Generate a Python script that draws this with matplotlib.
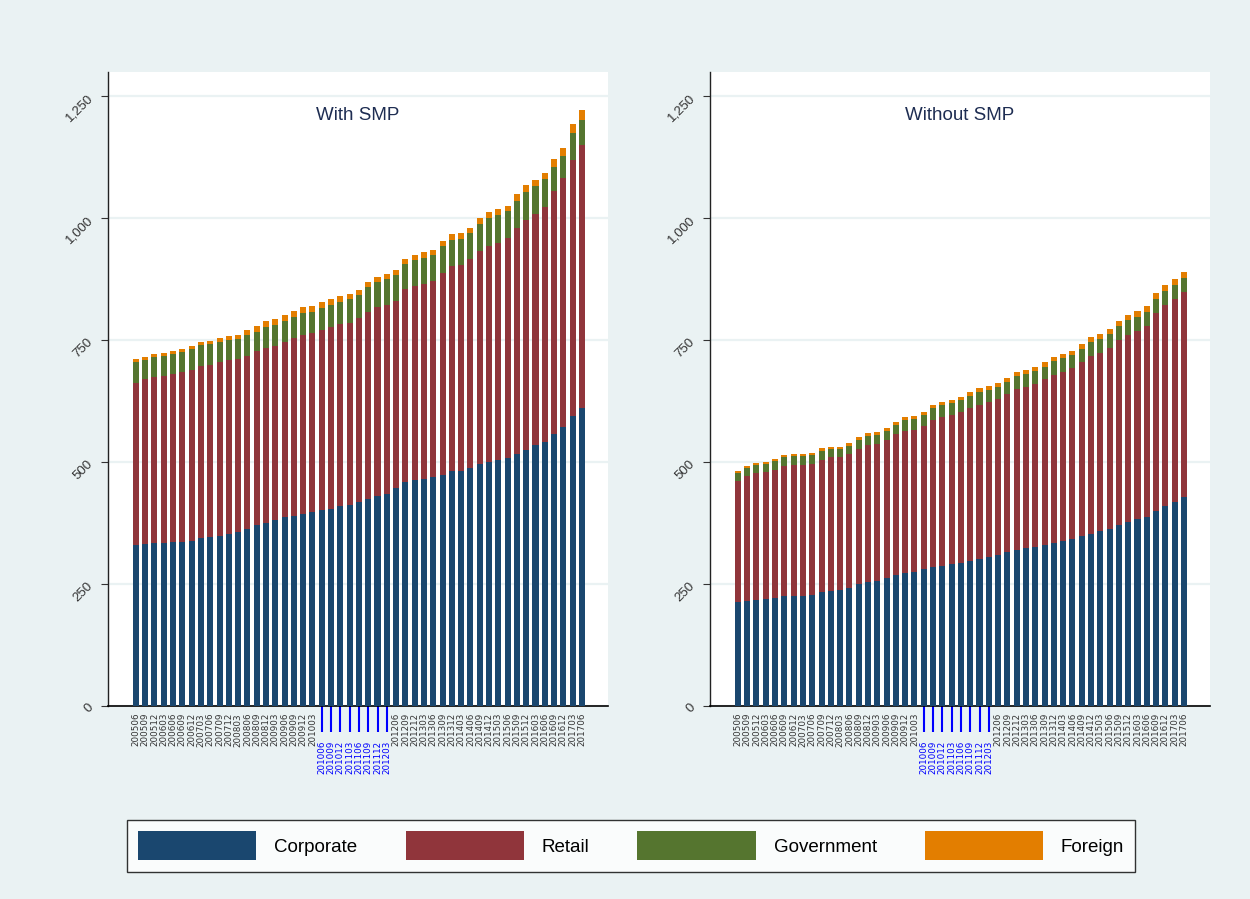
import matplotlib
matplotlib.use("Agg")
import matplotlib.pyplot as plt
from matplotlib.patches import Patch
from matplotlib.ticker import FuncFormatter
import numpy as np

# ── Data (EUR bn, quarter-end) ───────────────────────────────────────────────
quarters = [f"{y}{m}" for y in range(2005, 2018) for m in ("03", "06", "09", "12")]
quarters = quarters[quarters.index("200506"):quarters.index("201706") + 1]
smp_quarters = ["201006", "201009", "201012", "201103", "201106", "201109", "201112", "201203"]

with_corporate = [330, 332, 334, 334, 336, 336, 338, 345, 346, 348, 352, 356, 363, 371, 375, 381,
                  387, 389, 393, 397, 402, 404, 410, 412, 418, 424, 430, 434, 447, 459, 463, 465,
                  469, 473, 481, 481, 488, 496, 500, 504, 508, 516, 525, 535, 541, 557, 572, 594, 611]
with_retail = [332, 338, 340, 342, 344, 348, 351, 352, 353, 357, 357, 355, 354, 356, 359, 357,
               359, 365, 367, 367, 368, 372, 373, 373, 377, 383, 388, 388, 383, 395, 398, 400,
               402, 414, 421, 423, 428, 436, 443, 445, 451, 464, 471, 473, 482, 498, 510, 526, 539]
with_government = [43, 39, 41, 41, 41, 41, 42, 43, 43, 41, 41, 41, 43, 39, 42, 43,
                   43, 43, 45, 43, 46, 46, 45, 49, 47, 52, 51, 53, 53, 52, 53, 53,
                   53, 56, 53, 53, 53, 56, 57, 57, 55, 55, 57, 58, 57, 50, 45, 55, 52]
with_foreign = [6, 6, 6, 6, 6, 6, 7, 6, 6, 8, 8, 8, 10, 13, 13, 12,
                12, 12, 13, 13, 12, 12, 12, 10, 10, 10, 10, 10, 10, 10, 10, 12,
                10, 10, 12, 12, 12, 12, 12, 12, 12, 14, 15, 12, 12, 17, 16, 18, 19]

without_corporate = [213, 215, 217, 219, 221, 225, 225, 225, 227, 234, 236, 238, 242, 250, 254, 256,
                     262, 268, 272, 275, 281, 285, 287, 291, 293, 297, 301, 305, 309, 316, 320, 324,
                     326, 330, 334, 338, 342, 348, 352, 358, 362, 371, 377, 383, 387, 400, 410, 418, 428]
without_retail = [248, 256, 260, 260, 263, 267, 269, 269, 269, 270, 274, 272, 274, 277, 281, 281,
                  283, 289, 291, 290, 293, 301, 305, 305, 309, 314, 316, 318, 320, 323, 330, 330,
                  334, 340, 344, 346, 351, 357, 365, 365, 371, 379, 383, 385, 392, 405, 412, 416, 420]
without_government = [16, 17, 17, 17, 18, 18, 18, 18, 18, 18, 17, 17, 17, 18, 18, 18,
                      18, 19, 23, 23, 22, 25, 25, 25, 25, 24, 26, 25, 25, 25, 26, 26,
                      26, 25, 29, 29, 26, 26, 29, 29, 29, 29, 31, 29, 28, 29, 28, 29, 29]
without_foreign = [5, 4, 4, 4, 4, 4, 4, 4, 4, 6, 4, 4, 6, 6, 6, 6,
                   7, 6, 6, 6, 6, 6, 6, 6, 6, 8, 9, 8, 8, 8, 8, 8,
                   9, 10, 8, 8, 8, 11, 10, 10, 10, 10, 10, 12, 13, 12, 13, 12, 12]

sectors = ["Corporate", "Retail", "Government", "Foreign"]
colors = ["#1a476f", "#90353b", "#55752f", "#e37e00"]

BG = "#eaf2f3"

panels = [
    ("With SMP", [with_corporate, with_retail, with_government, with_foreign]),
    ("Without SMP", [without_corporate, without_retail, without_government, without_foreign]),
]

fig = plt.figure(figsize=(12.5, 8.99), dpi=100, facecolor=BG)
plt.rcParams["font.family"] = ["Liberation Sans", "DejaVu Sans"]

x = np.arange(len(quarters))
smp_idx = [quarters.index(q) for q in smp_quarters]
other_idx = [i for i in x if i not in smp_idx]

for k, (title, series) in enumerate(panels):
    left = 0.0864 if k == 0 else 0.568
    ax = fig.add_axes([left, 0.2147, 0.4, 0.7053])
    ax.set_facecolor("white")

    bottom = np.zeros(len(quarters))
    for vals, col, name in zip(series, colors, sectors):
        ax.bar(x, vals, bottom=bottom, width=0.65, color=col, label=name,
               edgecolor="none", zorder=3)
        bottom += np.array(vals)

    ax.set_xlim(-3.0, 50.8)
    ax.set_ylim(0, 1300)
    ax.set_yticks([0, 250, 500, 750, 1000, 1250])
    ax.yaxis.set_major_formatter(FuncFormatter(lambda v, p: f"{int(v):,}"))
    ax.grid(axis="y", color=BG, linewidth=1.6, zorder=0)
    ax.tick_params(axis="y", length=5, width=0.8, color="#333333", labelsize=9.5,
                   labelcolor="#333333", pad=7)
    for lab in ax.get_yticklabels():
        lab.set_rotation(45)
        lab.set_rotation_mode("anchor")
        lab.set_ha("right")
        lab.set_va("center")

    # normal quarter ticks
    ax.set_xticks(other_idx)
    ax.set_xticklabels([quarters[i] for i in other_idx], rotation=90, fontsize=6.3,
                       color="#333333", family="DejaVu Sans")
    ax.tick_params(axis="x", which="major", length=0, pad=5)
    # SMP period: long blue ticks, labels pushed down
    ax.set_xticks(smp_idx, minor=True)
    ax.set_xticklabels([quarters[i] for i in smp_idx], minor=True, rotation=90,
                       fontsize=6.3, color="blue", family="DejaVu Sans")
    ax.tick_params(axis="x", which="minor", length=19, width=1.5, color="blue",
                   pad=6)

    for s in ("top", "right"):
        ax.spines[s].set_visible(False)
    ax.spines["left"].set_color("#222222")
    ax.spines["left"].set_linewidth(1.0)
    ax.spines["bottom"].set_color("black")
    ax.spines["bottom"].set_linewidth(1.2)

    ax.text(0.5, 0.932, title, transform=ax.transAxes, ha="center", va="center",
            fontsize=13.5, color="#1e2d52")

handles = [Patch(facecolor=c, edgecolor="none") for c in colors]
leg = fig.legend(handles, sectors, loc="center", bbox_to_anchor=(0.505, 0.059), ncol=4,
                 fontsize=13.5, handlelength=6.3, handleheight=2.0, handletextpad=0.96,
                 columnspacing=2.56, frameon=True, fancybox=False, borderpad=0.6,
                 borderaxespad=0)
leg.get_frame().set_edgecolor("black")
leg.get_frame().set_linewidth(1.0)
leg.get_frame().set_facecolor("white")

plt.savefig("out.png", dpi=100, facecolor=BG)
plt.close()
print("Saved: out.png")
